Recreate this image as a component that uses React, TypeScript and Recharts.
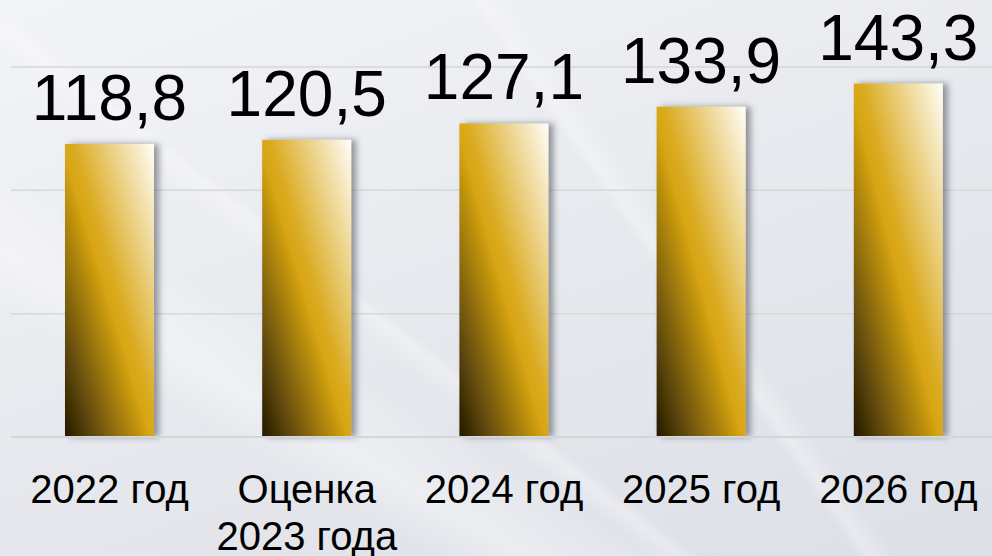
import { BarChart, Bar, XAxis, YAxis, CartesianGrid, LabelList } from 'recharts';

const categories = ['2022 год', 'Оценка\n2023 года', '2024 год', '2025 год', '2026 год'];
const values = [118.8, 120.5, 127.1, 133.9, 143.3];
const yTicks = [0, 50, 100, 150];

const data = categories.map((name, i) => ({ name, value: values[i] }));

const FONT = '"Liberation Sans", Arial, sans-serif';

// tick with line breaks
const CategoryTick = ({ x, y, payload }: any) => {
  const lines = String(payload.value).split('\n');
  return (
    <text x={x} y={y} textAnchor="middle" fontFamily={FONT} fontSize={40} fill="#000">
      {lines.map((line, i) => (
        <tspan key={i} x={x} dy={i === 0 ? 66 : 47}>
          {line}
        </tspan>
      ))}
    </text>
  );
};

const GoldBar = ({ x, y, width, height }: any) => (
  <rect x={x} y={y} width={width} height={height} fill="url(#goldFill)" filter="url(#barShadow)" />
);

export default function App() {
  return (
    <div
      style={{
        position: 'absolute',
        left: 0,
        top: 0,
        width: 992,
        height: 556,
        overflow: 'hidden',
        background: [
          'linear-gradient(38deg, transparent 38%, rgba(255,255,255,0.3) 40%, transparent 41%)',
          'linear-gradient(30deg, transparent 22%, rgba(255,255,255,0.35) 27%, rgba(255,255,255,0.1) 33%, transparent 34%)',
          'linear-gradient(55deg, transparent 62%, rgba(255,255,255,0.3) 63%, transparent 65%)',
          'linear-gradient(160deg, #f3f4f7 0%, #e7e9ee 50%, #dddfe7 100%)',
        ].join(','),
      }}
    >
      <BarChart width={997} height={556} data={data} margin={{ top: 67, right: 0, left: 11, bottom: 89 }}>
        <defs>
          <linearGradient id="goldFill" x1="0" y1="1" x2="1" y2="0">
            <stop offset="0" stopColor="#221903" />
            <stop offset="0.48" stopColor="#d7a512" />
            <stop offset="0.55" stopColor="#dbac24" />
            <stop offset="1" stopColor="#fffef8" />
          </linearGradient>
          <filter id="barShadow" x="-20%" y="-10%" width="150%" height="120%">
            <feDropShadow dx="5" dy="0" stdDeviation="3" floodColor="#4a4d55" floodOpacity="0.55" />
          </filter>
        </defs>
        <CartesianGrid horizontal vertical={false} stroke="#d5d7da" strokeWidth={1.5} />
        <YAxis hide domain={[0, 150]} ticks={yTicks} />
        <XAxis
          dataKey="name"
          height={30}
          axisLine={{ stroke: '#d3d5d8', strokeWidth: 2 }}
          tickLine={false}
          tickSize={0}
          tickMargin={0}
          interval={0}
          tick={<CategoryTick />}
        />
        <Bar dataKey="value" barSize={89} shape={<GoldBar />} isAnimationActive={false}>
          <LabelList
            dataKey="value"
            position="top"
            offset={24}
            fill="#000"
            fontFamily={FONT}
            fontSize={64}
            formatter={(v: any) => Number(v).toFixed(1).replace('.', ',')}
          />
        </Bar>
      </BarChart>
    </div>
  );
}
